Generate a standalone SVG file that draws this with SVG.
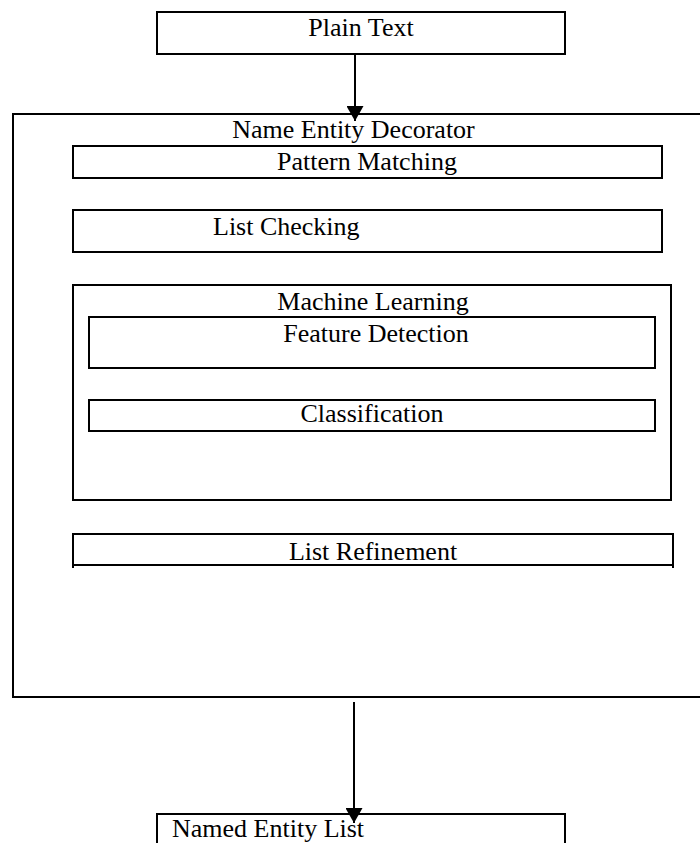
<svg xmlns="http://www.w3.org/2000/svg" width="700" height="843" viewBox="0 0 700 843">
<style>
  .box { fill: none; stroke: #000; stroke-width: 2; }
  .lbl { font-family: "Liberation Serif", "Times New Roman", serif; font-size: 26px; fill: #000; }
  .mid { text-anchor: middle; }
  .conn { stroke: #000; stroke-width: 2; fill: none; marker-end: url(#arrow); }
</style>
<defs>
  <marker id="arrow" markerUnits="userSpaceOnUse" viewBox="0 0 15 17" refX="15" refY="8.5" markerWidth="15" markerHeight="17" orient="auto">
    <path d="M0,0 L15,8.5 L0,17 z" fill="#000"/>
  </marker>
</defs>
<rect width="700" height="843" fill="#fff"/>

<g id="plain-text">
  <rect class="box" x="157" y="12" width="408" height="42"/>
  <text class="lbl mid" x="361" y="36">Plain Text</text>
</g>

<g id="name-entity-decorator">
  <rect class="box" x="13" y="114" width="700" height="583"/>
  <text class="lbl mid" x="353.5" y="138">Name Entity Decorator</text>
</g>

<g id="pattern-matching">
  <rect class="box" x="73" y="146" width="589" height="32"/>
  <text class="lbl mid" x="367" y="170">Pattern Matching</text>
</g>

<g id="list-checking">
  <rect class="box" x="73" y="210" width="589" height="42"/>
  <text class="lbl" x="213" y="235">List Checking</text>
</g>

<g id="machine-learning">
  <rect class="box" x="73" y="285" width="598" height="215"/>
  <text class="lbl mid" x="373" y="310">Machine Learning</text>
</g>

<g id="feature-detection">
  <rect class="box" x="89" y="317" width="566" height="51"/>
  <text class="lbl mid" x="376" y="341.5">Feature Detection</text>
</g>

<g id="classification">
  <rect class="box" x="89" y="400" width="566" height="31"/>
  <text class="lbl mid" x="372" y="421.5">Classification</text>
</g>

<g id="list-refinement">
  <path class="box" d="M73,568 V534 H673 V568 M73,565 H673"/>
  <text class="lbl mid" x="373" y="560">List Refinement</text>
</g>

<g id="named-entity-list">
  <rect class="box" x="157" y="814" width="408" height="40"/>
  <text class="lbl" x="172" y="837">Named Entity List</text>
</g>

<g id="connectors">
  <line class="conn" x1="355" y1="54" x2="355" y2="121"/>
  <line class="conn" x1="354" y1="702" x2="354" y2="823"/>
</g>
</svg>
